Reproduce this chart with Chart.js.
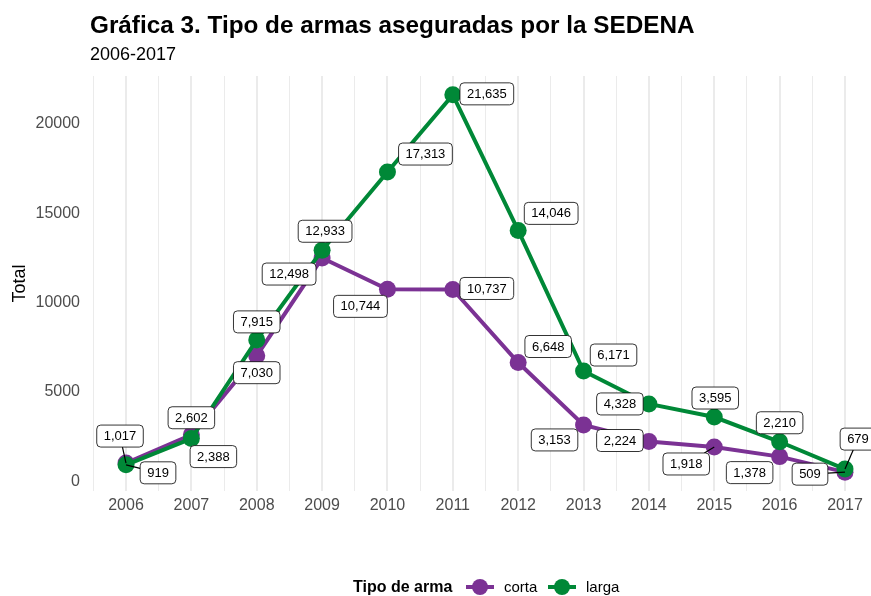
<!DOCTYPE html>
<html>
<head>
<meta charset="utf-8">
<script src="https://cdn.jsdelivr.net/npm/chart.js@4/dist/chart.umd.min.js"></script>
<style>
html, body { margin: 0; padding: 0; background: #fff; }
</style>
</head>
<body>
<canvas id="myChart" width="871" height="596"></canvas>
<script>
// datos
var years = [2006, 2007, 2008, 2009, 2010, 2011, 2012, 2013, 2014, 2015, 2016, 2017];
var corta = [1017, 2602, 7030, 12498, 10744, 10737, 6648, 3153, 2224, 1918, 1378, 509];
var larga = [919, 2388, 7915, 12933, 17313, 21635, 14046, 6171, 4328, 3595, 2210, 679];
var yTicks = [0, 5000, 10000, 15000, 20000];

// posicion de las etiquetas (px desde el punto) y si llevan segmento
var cortaOff = [[-6,-27],[0,-17],[0,17],[-33,16],[-27,17],[34,-1],[30,-16],[-29,15],[-29,-1],[-28,17],[-30,16],[-35,2]];
var largaOff = [[32,8],[22,18],[0,-18],[3,-19],[38,-18],[34,-1],[33,-17],[30,-16],[-29,0],[1,-19],[0,-19],[13,-30]];
var cortaSeg = [1,0,0,0,0,0,0,0,0,1,0,1];
var largaSeg = [1,0,0,0,0,0,0,0,0,0,0,1];

var PURPLE = '#7b3294';
var GREEN = '#008837';
var FONT = "'Liberation Sans', Arial, sans-serif";

function toPoints(vals) {
    var out = [];
    for (var i = 0; i < years.length; i++) out.push({ x: years[i], y: vals[i] });
    return out;
}

function fmt(v) {
    return v.toString().replace(/\B(?=(\d{3})+(?!\d))/g, ',');
}

function roundBox(ctx, x, y, w, h, r) {
    ctx.beginPath();
    ctx.moveTo(x + r, y);
    ctx.arcTo(x + w, y, x + w, y + h, r);
    ctx.arcTo(x + w, y + h, x, y + h, r);
    ctx.arcTo(x, y + h, x, y, r);
    ctx.arcTo(x, y, x + w, y, r);
    ctx.closePath();
}

var labelPlugin = {
    id: 'repelLabels',
    afterDatasetsDraw: function (chart) {
        var ctx = chart.ctx;
        var sets = [[0, corta, cortaOff, cortaSeg], [1, larga, largaOff, largaSeg]];
        ctx.save();
        ctx.font = '13px ' + FONT;
        ctx.textAlign = 'center';
        ctx.textBaseline = 'middle';
        sets.forEach(function (s) {
            var meta = chart.getDatasetMeta(s[0]);
            meta.data.forEach(function (pt, j) {
                var txt = fmt(s[1][j]);
                var w = ctx.measureText(txt).width + 14;
                var h = 22;
                var cx = pt.x + s[2][j][0];
                var cy = pt.y + s[2][j][1];
                if (s[3][j]) {
                    var dx = pt.x - cx, dy = pt.y - cy;
                    var t = Math.min(Math.abs(dx) > 0 ? (w / 2) / Math.abs(dx) : 99,
                                     Math.abs(dy) > 0 ? (h / 2) / Math.abs(dy) : 99);
                    ctx.beginPath();
                    ctx.moveTo(cx + dx * t, cy + dy * t);
                    ctx.lineTo(pt.x, pt.y);
                    ctx.strokeStyle = '#000';
                    ctx.lineWidth = 1.2;
                    ctx.stroke();
                }
                roundBox(ctx, cx - w / 2, cy - h / 2, w, h, 4);
                ctx.fillStyle = '#fff';
                ctx.fill();
                ctx.strokeStyle = '#000';
                ctx.lineWidth = 0.8;
                ctx.stroke();
                ctx.fillStyle = '#000';
                ctx.fillText(txt, cx, cy + 0.5);
            });
        });
        ctx.restore();
    }
};

var textPlugin = {
    id: 'titlesLegend',
    afterDraw: function (chart) {
        var ctx = chart.ctx;
        ctx.save();
        ctx.fillStyle = '#000';
        ctx.textAlign = 'left';
        ctx.textBaseline = 'alphabetic';
        ctx.font = 'bold 24.3px ' + FONT;
        ctx.fillText('Gráfica 3. Tipo de armas aseguradas por la SEDENA', 90, 33);
        ctx.font = '18px ' + FONT;
        ctx.fillText('2006-2017', 90, 60);

        // leyenda
        ctx.font = 'bold 16px ' + FONT;
        ctx.fillText('Tipo de arma', 353, 592);
        var keys = [[480, PURPLE, 'corta'], [562, GREEN, 'larga']];
        ctx.font = '15px ' + FONT;
        keys.forEach(function (k) {
            ctx.beginPath();
            ctx.moveTo(k[0] - 14, 587);
            ctx.lineTo(k[0] + 14, 587);
            ctx.strokeStyle = k[1];
            ctx.lineWidth = 4;
            ctx.stroke();
            ctx.beginPath();
            ctx.arc(k[0], 587, 8, 0, Math.PI * 2);
            ctx.fillStyle = k[1];
            ctx.fill();
            ctx.fillStyle = '#000';
            ctx.fillText(k[2], k[0] + 24, 592);
        });
        ctx.restore();
    }
};

const config = {
    type: 'line',
    data: {
        datasets: [{
            label: 'corta',
            data: toPoints(corta),
            borderColor: PURPLE,
            backgroundColor: PURPLE,
            borderWidth: 4,
            pointRadius: 8.5,
            pointHoverRadius: 8.5,
            pointBorderWidth: 0,
            clip: false,
            order: 1
        }, {
            label: 'larga',
            data: toPoints(larga),
            borderColor: GREEN,
            backgroundColor: GREEN,
            borderWidth: 4,
            pointRadius: 8.5,
            pointHoverRadius: 8.5,
            pointBorderWidth: 0,
            clip: false,
            order: 0
        }]
    },
    options: {
        responsive: false,
        animation: false,
        devicePixelRatio: 1,
        layout: { autoPadding: false, padding: { left: 0, top: 76, right: 0, bottom: 75 } },
        plugins: {
            legend: { display: false },
            title: { display: false },
            tooltip: { enabled: false }
        },
        scales: {
            x: {
                type: 'linear',
                min: 2005.449,
                max: 2017.398,
                afterBuildTicks: function (scale) {
                    var t = [];
                    for (var v = 2005.5; v <= 2017.01; v += 0.5) t.push({ value: v });
                    scale.ticks = t;
                },
                afterFit: function (scale) {
                    scale.height = 30;
                    scale.paddingLeft = 0;
                    scale.paddingRight = 0;
                },
                border: { display: false },
                grid: {
                    color: '#ebebeb',
                    drawTicks: false,
                    lineWidth: function (c) {
                        return (c.tick && Number.isInteger(c.tick.value)) ? 2 : 1;
                    }
                },
                ticks: {
                    autoSkip: false,
                    maxRotation: 0,
                    padding: 5,
                    color: '#4d4d4d',
                    font: { family: FONT, size: 16 },
                    callback: function (v) { return Number.isInteger(v) ? String(v) : ''; }
                }
            },
            y: {
                min: -547,
                max: 22691,
                afterBuildTicks: function (scale) {
                    scale.ticks = yTicks.map(function (v) { return { value: v }; });
                },
                afterFit: function (scale) {
                    scale.width = 90;
                    scale.paddingTop = 0;
                    scale.paddingBottom = 0;
                },
                border: { display: false },
                grid: { display: false, drawTicks: false },
                ticks: {
                    padding: 10,
                    color: '#4d4d4d',
                    font: { family: FONT, size: 16 },
                    callback: function (v) { return String(v); }
                },
                title: {
                    display: true,
                    text: 'Total',
                    color: '#000',
                    padding: { top: 9, bottom: 0 },
                    font: { family: FONT, size: 18 }
                }
            }
        }
    },
    plugins: [labelPlugin, textPlugin]
};

var myChart = new Chart(document.getElementById('myChart'), config);
</script>
</body>
</html>
